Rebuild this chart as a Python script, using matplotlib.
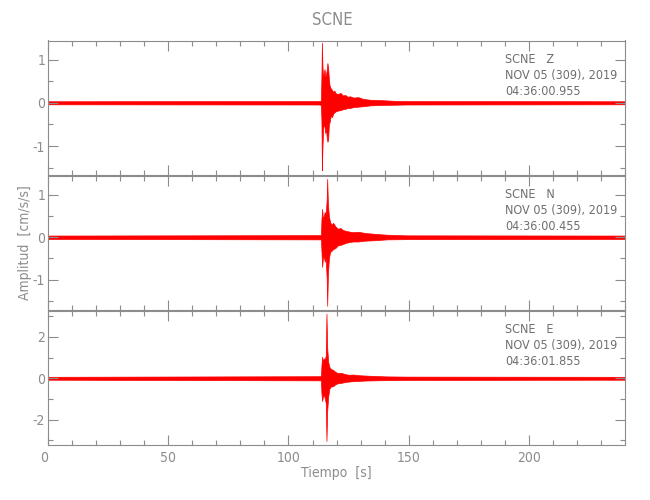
import matplotlib
matplotlib.use('Agg')
import matplotlib.pyplot as plt
from matplotlib.ticker import MultipleLocator

plt.rcParams['font.family'] = ['DejaVu Sans']
plt.rcParams['font.stretch'] = 'condensed'
plt.rcParams['axes.unicode_minus'] = False

gris = '#8c8c8c'
texto = '#6e6e6e'

estacion = 'SCNE'
componentes = ['Z', 'N', 'E']
fecha = 'NOV 05 (309), 2019'
horas = ['04:36:00.955', '04:36:00.455', '04:36:01.855']
t_max = 240

t_z = [0, 112.6, 113.5, 113.7, 113.9, 114.1, 114.4, 114.7, 115.0, 115.3, 115.6, 115.9,
       116.2, 116.5, 116.8, 117.1, 117.6, 118.1, 118.6, 119.1, 119.6, 120.6, 121.6,
       122.6, 123.6, 124.6, 125.6, 127, 129, 131, 134, 139, 144, 149, 240]
sup_z = [0.035, 0.04, 0.05, 0.6, 1.39, 0.9, 0.5, 0.7, 0.78, 0.6, 0.65, 0.75,
         0.92, 0.8, 0.55, 0.4, 0.33, 0.3, 0.25, 0.28, 0.22, 0.2, 0.23,
         0.17, 0.18, 0.14, 0.15, 0.12, 0.13, 0.09, 0.07, 0.06, 0.045, 0.04, 0.035]
inf_z = [-0.035, -0.04, -0.05, -0.4, -1.56, -1.1, -0.6, -0.5, -0.55, -0.7, -0.6, -0.8,
         -0.9, -0.85, -0.5, -0.45, -0.3, -0.33, -0.25, -0.22, -0.2, -0.18, -0.17,
         -0.15, -0.14, -0.12, -0.12, -0.1, -0.09, -0.08, -0.06, -0.05, -0.045, -0.04, -0.035]

t_n = [0, 113.5, 113.7, 114.0, 114.3, 114.7, 115.1, 115.5, 115.9, 116.1, 116.4, 116.8,
       117.3, 117.9, 118.6, 119.6, 120.6, 121.6, 122.6, 124, 125.6, 127, 129, 132,
       136, 141, 149, 240]
sup_n = [0.04, 0.05, 0.4, 0.67, 0.45, 0.5, 0.6, 0.55, 0.9, 1.38, 0.8, 0.5,
         0.36, 0.3, 0.34, 0.25, 0.2, 0.22, 0.17, 0.15, 0.13, 0.12, 0.13, 0.1,
         0.08, 0.06, 0.045, 0.04]
inf_n = [-0.04, -0.05, -0.3, -0.7, -0.5, -0.45, -0.58, -0.5, -1.0, -1.62, -0.9, -0.5,
         -0.35, -0.32, -0.28, -0.25, -0.19, -0.18, -0.16, -0.13, -0.11, -0.1, -0.1, -0.08,
         -0.07, -0.05, -0.045, -0.04]

t_e = [0, 113.5, 113.7, 114.0, 114.3, 114.7, 115.1, 115.5, 115.8, 116.1, 116.5, 117.0,
       117.6, 118.6, 119.6, 120.6, 122, 123.6, 125, 127, 129, 132, 136, 141, 149, 240]
sup_e = [0.07, 0.1, 0.6, 1.04, 0.8, 0.96, 0.9, 1.1, 3.12, 1.5, 0.8, 0.55,
         0.45, 0.4, 0.3, 0.25, 0.26, 0.2, 0.17, 0.18, 0.15, 0.13, 0.11, 0.09, 0.08, 0.07]
inf_e = [-0.07, -0.1, -0.7, -1.1, -0.9, -0.8, -0.96, -1.2, -3.03, -1.6, -0.9, -0.5,
         -0.4, -0.38, -0.28, -0.24, -0.22, -0.18, -0.16, -0.14, -0.13, -0.11, -0.1, -0.09, -0.08, -0.07]

trazas = [(t_z, sup_z, inf_z), (t_n, sup_n, inf_n), (t_e, sup_e, inf_e)]
limites_y = [(-1.67, 1.44), (-1.72, 1.46), (-3.22, 3.27)]
ticks_y = [(1, 0.5), (1, 0.5), (2, 1)]

fig = plt.figure(figsize=(6.5, 5), dpi=100)
bases = [0.65, 0.38, 0.11]
ejes = []
for i in range(3):
    ax = fig.add_axes([0.0738, bases[i], 0.888, 0.269])
    t, sup, inf = trazas[i]
    ax.fill_between(t, inf, sup, color='red', linewidth=0.5)
    ax.set_xlim(0, t_max)
    ax.set_ylim(limites_y[i])
    ax.xaxis.set_major_locator(MultipleLocator(50))
    ax.xaxis.set_minor_locator(MultipleLocator(10))
    ax.yaxis.set_major_locator(MultipleLocator(ticks_y[i][0]))
    ax.yaxis.set_minor_locator(MultipleLocator(ticks_y[i][1]))
    ax.tick_params(which='both', direction='in', top=True, right=True, color=gris,
                   labelcolor=gris, labelsize=10, width=0.8, pad=2)
    ax.tick_params(which='major', length=7)
    ax.tick_params(which='minor', length=3.5)
    for s in ax.spines.values():
        s.set_color(gris)
        s.set_linewidth(0.8)
    if i < 2:
        ax.tick_params(labelbottom=False)
    ax.text(0.792, 0.91, f'{estacion}   {componentes[i]}\n{fecha}\n{horas[i]}',
            transform=ax.transAxes, ha='left', va='top', fontsize=9,
            color=texto, linespacing=1.3)
    ejes.append(ax)

# el "0" del eje de tiempo queda a la izquierda del borde
ejes[2].set_xticks([0, 50, 100, 150, 200])
ejes[2].get_xticklabels()[0].set_ha('right')
ejes[2].tick_params(axis='x', pad=4)

fig.text(0.511, 0.96, estacion, ha='center', va='center', fontsize=12, color=gris)
fig.text(0.518, 0.055, 'Tiempo  [s]', ha='center', va='center', fontsize=10, color=gris)
fig.text(0.038, 0.515, 'Amplitud  [cm/s/s]', ha='center', va='center', fontsize=10,
         color=gris, rotation=90)

plt.savefig('out.png', dpi=100)
